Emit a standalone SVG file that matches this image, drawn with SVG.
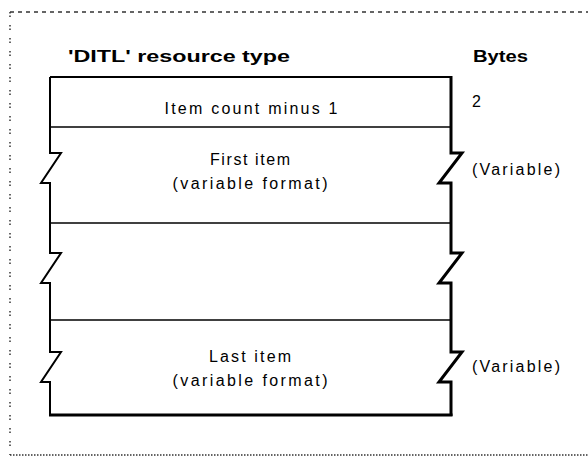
<svg xmlns="http://www.w3.org/2000/svg" width="588" height="457" viewBox="0 0 588 457">
  <style>
    .t { font-family: "Liberation Sans", Arial, sans-serif; font-size: 16px; fill: #000; }
    .b { font-weight: bold; }
    .div { stroke: #000; stroke-width: 1.5; fill: none; }
    .frame { stroke: #333; stroke-width: 1.5; fill: none; }
  </style>
  <rect width="588" height="457" fill="#fff"/>
  <g id="frame">
    <line class="frame" x1="10" y1="12" x2="588" y2="12" stroke-dasharray="4 4"/>
    <line class="frame" x1="10" y1="12" x2="10" y2="455" stroke-dasharray="1.5 2 1.5 8"/>
    <line class="frame" x1="10" y1="455" x2="588" y2="455" stroke-dasharray="1.5 1.5"/>
  </g>
  <g id="header">
    <text class="t b" x="68" y="62" textLength="222" lengthAdjust="spacingAndGlyphs">'DITL' resource type</text>
    <text class="t b" x="473" y="62" textLength="55" lengthAdjust="spacingAndGlyphs">Bytes</text>
  </g>
  <g id="box-outline">
    <line x1="50" y1="77" x2="452" y2="77" stroke="#000" stroke-width="2"/>
    <path d="M50,77 V153 H61 L41,183 H50 V253 H61 L41,283 H50 V352 H61 L41,382 H50 V416" fill="none" stroke="#000" stroke-width="2"/>
    <path d="M451,76 V153 H462 L439,183 H451 V253 H462 L439,283 H451 V352 H462 L439,382 H451 V416" fill="none" stroke="#000" stroke-width="3"/>
    <line x1="49" y1="415" x2="452.5" y2="415" stroke="#000" stroke-width="3"/>
  </g>
  <g id="row-count">
    <line class="div" x1="50" y1="127" x2="451" y2="127"/>
    <text class="t" x="251" y="114" text-anchor="middle" textLength="173" lengthAdjust="spacing">Item count minus 1</text>
    <text class="t" x="472" y="107">2</text>
  </g>
  <g id="row-first">
    <line class="div" x1="50" y1="223" x2="451" y2="223"/>
    <text class="t" x="250" y="165" text-anchor="middle" textLength="80" lengthAdjust="spacing">First item</text>
    <text class="t" x="250" y="189" text-anchor="middle" textLength="155" lengthAdjust="spacing">(variable format)</text>
    <text class="t" x="472" y="175" textLength="88" lengthAdjust="spacing">(Variable)</text>
  </g>
  <g id="row-middle">
    <line class="div" x1="50" y1="320" x2="451" y2="320"/>
  </g>
  <g id="row-last">
    <text class="t" x="250" y="362" text-anchor="middle" textLength="82" lengthAdjust="spacing">Last item</text>
    <text class="t" x="250" y="386" text-anchor="middle" textLength="155" lengthAdjust="spacing">(variable format)</text>
    <text class="t" x="472" y="372" textLength="88" lengthAdjust="spacing">(Variable)</text>
  </g>
  <g id="connectors"></g>
</svg>
